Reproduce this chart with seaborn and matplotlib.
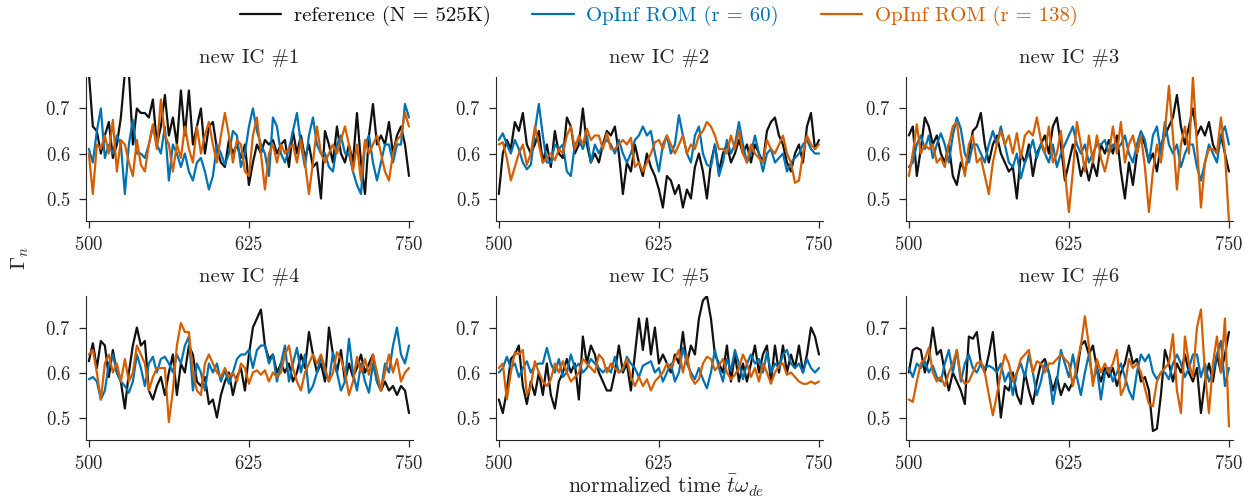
import numpy as np
import pandas as pd
import seaborn as sns
from matplotlib import pyplot as plt

# Gamma_n time traces (t = 500 .. 750)
# one list per panel / model, values on an even grid
ic1_ref = [0.78,0.66,0.65,0.60,0.64,0.67,0.59,0.62,
           0.68,0.78,0.78,0.62,0.70,0.69,0.69,0.68,
           0.72,0.62,0.66,0.73,0.64,0.68,0.62,0.74,
           0.64,0.74,0.62,0.66,0.70,0.60,0.66,0.67,
           0.61,0.58,0.57,0.63,0.60,0.62,0.59,0.62,
           0.53,0.58,0.62,0.60,0.63,0.62,0.63,0.60,
           0.62,0.63,0.57,0.65,0.60,0.64,0.59,0.62,
           0.57,0.58,0.50,0.65,0.62,0.58,0.66,0.60,
           0.58,0.62,0.58,0.69,0.58,0.51,0.64,0.71,
           0.62,0.64,0.62,0.67,0.60,0.64,0.66,0.62,
           0.55]
ic1_r60 = [0.61,0.58,0.65,0.70,0.59,0.62,0.60,0.64,
           0.62,0.51,0.62,0.675,0.60,0.60,0.59,0.62,
           0.66,0.62,0.60,0.66,0.54,0.62,0.60,0.57,
           0.60,0.56,0.54,0.58,0.59,0.56,0.52,0.55,
           0.62,0.60,0.575,0.60,0.65,0.64,0.57,0.60,
           0.66,0.70,0.65,0.62,0.60,0.55,0.68,0.66,
           0.60,0.58,0.61,0.65,0.69,0.62,0.57,0.64,
           0.68,0.62,0.60,0.60,0.57,0.56,0.62,0.64,
           0.60,0.60,0.56,0.53,0.51,0.62,0.64,0.58,
           0.54,0.58,0.62,0.62,0.58,0.62,0.62,0.71,
           0.68]
ic1_r138 = [0.60,0.51,0.62,0.61,0.64,0.60,0.675,0.56,
            0.63,0.62,0.58,0.55,0.63,0.575,0.56,0.62,
            0.665,0.61,0.72,0.64,0.62,0.56,0.62,0.59,
            0.66,0.61,0.58,0.66,0.60,0.64,0.67,0.62,
            0.58,0.64,0.69,0.64,0.58,0.63,0.62,0.56,
            0.55,0.64,0.68,0.60,0.52,0.60,0.62,0.58,
            0.62,0.60,0.61,0.62,0.58,0.63,0.58,0.51,
            0.58,0.66,0.60,0.58,0.60,0.62,0.60,0.63,
            0.66,0.62,0.56,0.62,0.54,0.63,0.60,0.62,
            0.64,0.60,0.56,0.54,0.60,0.63,0.64,0.69,
            0.66]

ic2_ref = [0.51,0.60,0.63,0.61,0.67,0.65,0.69,0.62,
           0.60,0.62,0.65,0.58,0.62,0.57,0.65,0.60,
           0.59,0.68,0.66,0.60,0.62,0.70,0.62,0.58,
           0.60,0.58,0.62,0.65,0.64,0.66,0.60,0.51,
           0.58,0.56,0.62,0.58,0.55,0.60,0.57,0.55,
           0.52,0.48,0.55,0.54,0.51,0.53,0.48,0.52,
           0.50,0.57,0.60,0.56,0.50,0.58,0.62,0.56,
           0.60,0.62,0.58,0.60,0.63,0.60,0.62,0.58,
           0.62,0.60,0.58,0.65,0.67,0.68,0.64,0.62,
           0.58,0.56,0.60,0.62,0.58,0.66,0.69,0.61,
           0.63]
ic2_r60 = [0.63,0.645,0.62,0.60,0.63,0.61,0.58,0.565,
           0.575,0.65,0.71,0.64,0.58,0.58,0.62,0.61,
           0.62,0.56,0.55,0.62,0.63,0.61,0.64,0.58,
           0.62,0.60,0.62,0.63,0.62,0.60,0.63,0.60,
           0.58,0.60,0.63,0.64,0.66,0.64,0.65,0.60,
           0.56,0.62,0.64,0.60,0.62,0.685,0.64,0.60,
           0.58,0.64,0.66,0.60,0.575,0.57,0.62,0.55,
           0.58,0.63,0.60,0.62,0.67,0.62,0.58,0.60,
           0.64,0.60,0.56,0.60,0.61,0.58,0.59,0.60,
           0.56,0.58,0.59,0.60,0.62,0.63,0.61,0.60,
           0.60]
ic2_r138 = [0.62,0.625,0.59,0.54,0.57,0.60,0.62,0.575,
            0.60,0.66,0.62,0.58,0.59,0.60,0.585,0.61,
            0.60,0.64,0.66,0.61,0.64,0.62,0.655,0.63,
            0.64,0.64,0.61,0.645,0.61,0.61,0.62,0.63,
            0.62,0.635,0.57,0.58,0.56,0.58,0.60,0.625,
            0.63,0.61,0.64,0.62,0.60,0.62,0.64,0.60,
            0.62,0.61,0.64,0.65,0.67,0.66,0.64,0.61,
            0.61,0.60,0.64,0.61,0.65,0.60,0.58,0.62,
            0.60,0.59,0.58,0.63,0.61,0.60,0.62,0.64,
            0.60,0.58,0.535,0.54,0.60,0.64,0.62,0.61,
            0.62]

ic3_ref = [0.64,0.66,0.55,0.61,0.68,0.66,0.62,0.64,
           0.60,0.58,0.62,0.55,0.53,0.58,0.56,0.60,
           0.65,0.66,0.69,0.62,0.58,0.62,0.64,0.60,
           0.58,0.56,0.57,0.50,0.60,0.58,0.62,0.55,
           0.60,0.62,0.64,0.60,0.66,0.68,0.62,0.54,
           0.58,0.62,0.60,0.55,0.58,0.54,0.58,0.55,
           0.62,0.60,0.63,0.60,0.64,0.56,0.50,0.58,
           0.53,0.60,0.64,0.62,0.58,0.60,0.56,0.62,
           0.64,0.66,0.68,0.73,0.66,0.62,0.66,0.70,
           0.64,0.66,0.64,0.67,0.62,0.60,0.64,0.60,
           0.56]
ic3_r60 = [0.57,0.58,0.62,0.64,0.61,0.64,0.59,0.62,
           0.645,0.62,0.58,0.64,0.68,0.655,0.60,0.58,
           0.62,0.62,0.60,0.58,0.62,0.65,0.62,0.66,
           0.62,0.58,0.57,0.60,0.545,0.58,0.60,0.63,
           0.59,0.62,0.60,0.58,0.62,0.57,0.60,0.62,
           0.64,0.66,0.62,0.60,0.62,0.58,0.60,0.62,
           0.62,0.63,0.60,0.62,0.61,0.62,0.64,0.60,
           0.58,0.62,0.65,0.63,0.58,0.64,0.66,0.60,
           0.67,0.62,0.60,0.62,0.57,0.60,0.62,0.62,
           0.57,0.54,0.58,0.62,0.60,0.58,0.64,0.66,
           0.62]
ic3_r138 = [0.55,0.60,0.665,0.60,0.62,0.61,0.62,0.58,
            0.59,0.57,0.62,0.66,0.67,0.60,0.55,0.62,
            0.64,0.58,0.59,0.55,0.51,0.58,0.62,0.65,
            0.62,0.64,0.60,0.645,0.59,0.64,0.65,0.64,
            0.68,0.63,0.60,0.66,0.58,0.60,0.65,0.56,
            0.47,0.56,0.67,0.62,0.56,0.64,0.58,0.64,
            0.59,0.56,0.60,0.66,0.60,0.67,0.58,0.62,
            0.64,0.60,0.64,0.57,0.47,0.56,0.62,0.58,
            0.65,0.75,0.64,0.52,0.62,0.66,0.60,0.77,
            0.62,0.48,0.58,0.61,0.61,0.60,0.68,0.60,
            0.45]

ic4_ref = [0.625,0.665,0.61,0.67,0.66,0.59,0.65,0.60,
           0.58,0.52,0.60,0.66,0.70,0.66,0.67,0.56,
           0.54,0.57,0.59,0.55,0.60,0.64,0.55,0.62,
           0.60,0.66,0.64,0.58,0.57,0.59,0.53,0.54,
           0.50,0.55,0.58,0.60,0.55,0.59,0.61,0.56,
           0.64,0.70,0.72,0.74,0.66,0.63,0.64,0.60,
           0.62,0.60,0.62,0.58,0.60,0.64,0.61,0.69,
           0.64,0.60,0.62,0.58,0.70,0.64,0.60,0.65,
           0.58,0.62,0.59,0.61,0.64,0.60,0.62,0.64,
           0.58,0.56,0.58,0.56,0.57,0.55,0.57,0.56,
           0.51]
ic4_r60 = [0.585,0.59,0.58,0.54,0.56,0.62,0.64,0.60,
           0.58,0.57,0.555,0.58,0.64,0.61,0.57,0.62,
           0.635,0.60,0.63,0.635,0.62,0.60,0.64,0.62,
           0.66,0.68,0.56,0.62,0.60,0.56,0.62,0.60,
           0.62,0.58,0.605,0.575,0.60,0.63,0.64,0.64,
           0.65,0.61,0.65,0.66,0.66,0.62,0.64,0.58,
           0.62,0.66,0.58,0.62,0.655,0.60,0.64,0.555,
           0.57,0.60,0.635,0.60,0.58,0.645,0.60,0.56,
           0.58,0.675,0.60,0.56,0.62,0.58,0.555,0.62,
           0.58,0.56,0.62,0.60,0.66,0.70,0.64,0.62,
           0.66]
ic4_r138 = [0.64,0.65,0.60,0.54,0.62,0.64,0.60,0.62,
            0.58,0.63,0.58,0.60,0.66,0.64,0.62,0.56,
            0.59,0.61,0.61,0.61,0.49,0.56,0.66,0.71,
            0.69,0.69,0.60,0.56,0.55,0.62,0.64,0.62,
            0.60,0.59,0.61,0.59,0.60,0.58,0.62,0.61,
            0.575,0.60,0.605,0.595,0.605,0.58,0.60,0.59,
            0.60,0.64,0.66,0.61,0.58,0.56,0.60,0.62,
            0.64,0.62,0.64,0.61,0.58,0.60,0.645,0.63,
            0.60,0.55,0.58,0.635,0.60,0.63,0.595,0.64,
            0.60,0.56,0.60,0.64,0.60,0.63,0.58,0.60,
            0.61]

ic5_ref = [0.54,0.51,0.56,0.63,0.64,0.66,0.57,0.53,
           0.58,0.55,0.60,0.55,0.62,0.55,0.52,0.58,
           0.60,0.63,0.60,0.62,0.54,0.68,0.62,0.66,
           0.64,0.60,0.58,0.56,0.56,0.60,0.66,0.60,
           0.62,0.56,0.64,0.72,0.65,0.72,0.64,0.70,
           0.62,0.64,0.62,0.60,0.64,0.62,0.69,0.62,
           0.66,0.64,0.72,0.76,0.77,0.72,0.64,0.62,
           0.60,0.66,0.58,0.64,0.58,0.62,0.58,0.62,
           0.66,0.60,0.64,0.66,0.58,0.66,0.60,0.66,
           0.60,0.64,0.61,0.66,0.60,0.64,0.70,0.68,
           0.64]
ic5_r60 = [0.60,0.61,0.635,0.61,0.62,0.59,0.61,0.625,
           0.60,0.615,0.62,0.62,0.655,0.62,0.60,0.63,
           0.59,0.60,0.64,0.61,0.62,0.60,0.61,0.63,
           0.62,0.61,0.60,0.61,0.60,0.635,0.60,0.605,
           0.635,0.62,0.61,0.59,0.615,0.62,0.625,0.60,
           0.61,0.58,0.60,0.62,0.58,0.60,0.655,0.62,
           0.60,0.585,0.61,0.585,0.565,0.60,0.65,0.61,
           0.58,0.63,0.605,0.65,0.62,0.585,0.62,0.64,
           0.62,0.63,0.60,0.645,0.60,0.62,0.61,0.64,
           0.65,0.62,0.61,0.62,0.60,0.63,0.61,0.60,
           0.61]
ic5_r138 = [0.61,0.62,0.54,0.60,0.645,0.64,0.65,0.55,
            0.57,0.625,0.60,0.58,0.57,0.585,0.62,0.60,
            0.625,0.60,0.58,0.59,0.60,0.63,0.62,0.61,
            0.60,0.64,0.63,0.60,0.62,0.61,0.60,0.61,
            0.63,0.59,0.57,0.59,0.57,0.585,0.56,0.58,
            0.59,0.60,0.62,0.61,0.63,0.65,0.60,0.64,
            0.59,0.575,0.585,0.62,0.635,0.63,0.605,0.615,
            0.63,0.60,0.585,0.595,0.61,0.64,0.62,0.59,
            0.61,0.58,0.62,0.60,0.575,0.60,0.615,0.62,
            0.595,0.60,0.59,0.58,0.575,0.575,0.58,0.575,
            0.58]

ic6_ref = [0.60,0.65,0.655,0.65,0.60,0.63,0.70,0.64,
           0.65,0.60,0.56,0.60,0.58,0.56,0.53,0.68,
           0.675,0.69,0.62,0.60,0.64,0.69,0.60,0.50,
           0.57,0.56,0.60,0.55,0.53,0.60,0.56,0.53,
           0.58,0.62,0.63,0.60,0.56,0.59,0.55,0.575,
           0.56,0.58,0.60,0.66,0.67,0.64,0.66,0.61,
           0.58,0.61,0.59,0.61,0.57,0.60,0.62,0.66,
           0.62,0.63,0.58,0.59,0.56,0.47,0.475,0.55,
           0.65,0.62,0.58,0.62,0.60,0.64,0.60,0.58,
           0.61,0.51,0.58,0.62,0.58,0.64,0.60,0.64,
           0.69]
ic6_r60 = [0.61,0.59,0.62,0.61,0.625,0.60,0.615,0.59,
           0.58,0.62,0.65,0.60,0.65,0.58,0.62,0.64,
           0.61,0.60,0.62,0.61,0.615,0.61,0.60,0.62,
           0.58,0.60,0.55,0.60,0.62,0.59,0.64,0.60,
           0.55,0.58,0.62,0.60,0.53,0.58,0.65,0.62,
           0.59,0.64,0.59,0.55,0.60,0.64,0.58,0.61,
           0.54,0.60,0.61,0.58,0.60,0.62,0.59,0.56,
           0.54,0.60,0.64,0.625,0.64,0.60,0.585,0.60,
           0.60,0.585,0.62,0.64,0.62,0.59,0.61,0.64,
           0.64,0.59,0.62,0.58,0.60,0.64,0.67,0.57,
           0.61]
ic6_r138 = [0.54,0.535,0.58,0.62,0.63,0.655,0.60,0.58,
            0.59,0.57,0.60,0.62,0.65,0.59,0.575,0.58,
            0.60,0.62,0.625,0.60,0.55,0.505,0.55,0.60,
            0.64,0.62,0.58,0.60,0.63,0.64,0.65,0.60,
            0.625,0.62,0.60,0.62,0.62,0.63,0.64,0.63,
            0.62,0.57,0.62,0.66,0.725,0.66,0.57,0.63,
            0.60,0.62,0.60,0.62,0.65,0.55,0.57,0.63,
            0.61,0.62,0.60,0.565,0.53,0.525,0.58,0.60,
            0.61,0.62,0.685,0.56,0.51,0.68,0.62,0.59,
            0.70,0.74,0.60,0.51,0.62,0.68,0.60,0.72,
            0.48]

panels = [
    ("new IC #1", ic1_ref, ic1_r60, ic1_r138),
    ("new IC #2", ic2_ref, ic2_r60, ic2_r138),
    ("new IC #3", ic3_ref, ic3_r60, ic3_r138),
    ("new IC #4", ic4_ref, ic4_r60, ic4_r138),
    ("new IC #5", ic5_ref, ic5_r60, ic5_r138),
    ("new IC #6", ic6_ref, ic6_r60, ic6_r138),
]
labels = ["reference (N = 525K)", "OpInf ROM (r = 60)", "OpInf ROM (r = 138)"]
colors = ["#111111", "#0072B2", "#D55E00"]

sns.set_style("ticks")
plt.rcParams['font.family'] = ['cmr10', 'DejaVu Serif']
plt.rcParams['mathtext.fontset'] = 'cm'
plt.rcParams['axes.formatter.use_mathtext'] = True
plt.rcParams['axes.unicode_minus'] = False

fig = plt.figure(figsize=(12.45, 4.99), dpi=100)

lefts = [0.0691, 0.3984, 0.7277]
bottoms = [0.5571, 0.1182]
w, h = 0.2627, 0.2886

for i, (title, ref, r60, r138) in enumerate(panels):
    ax = fig.add_axes([lefts[i % 3], bottoms[i // 3], w, h])
    frames = []
    for lab, vals in zip(labels, [ref, r60, r138]):
        frames.append(pd.DataFrame({'t': np.linspace(500, 750, len(vals)),
                                    'gamma': vals, 'model': lab}))
    df = pd.concat(frames, ignore_index=True)
    sns.lineplot(data=df, x='t', y='gamma', hue='model', hue_order=labels,
                 palette=colors, estimator=None, linewidth=1.6,
                 legend=False, ax=ax)
    ax.set_xlim(497.8, 753.2)
    ax.set_ylim(0.45, 0.77)
    ax.set_xticks([500, 625, 750])
    ax.set_yticks([0.5, 0.6, 0.7])
    ax.set_xlabel("")
    ax.set_ylabel("")
    ax.set_title(title, fontsize=15, pad=10)
    ax.tick_params(labelsize=13.5, length=4.8, width=0.9, pad=6)
    sns.despine(ax=ax)

handles = [plt.Line2D([], [], color=c, lw=1.6) for c in colors]
leg = fig.legend(handles, labels, loc='upper center', bbox_to_anchor=(0.529, 1.025),
                 ncol=3, frameon=False, fontsize=15, handlelength=2.0,
                 handletextpad=0.6, columnspacing=2.0)
for txt, c in zip(leg.get_texts(), colors):
    txt.set_color(c)

fig.text(0.535, 0.011, r"normalized time $\bar{t}\omega_{de}$", ha='center',
         va='baseline', fontsize=15.5)
fig.text(0.016, 0.483, r"$\Gamma_n$", rotation=90, ha='center', va='center',
         fontsize=15)

plt.savefig("out.png", dpi=100)
